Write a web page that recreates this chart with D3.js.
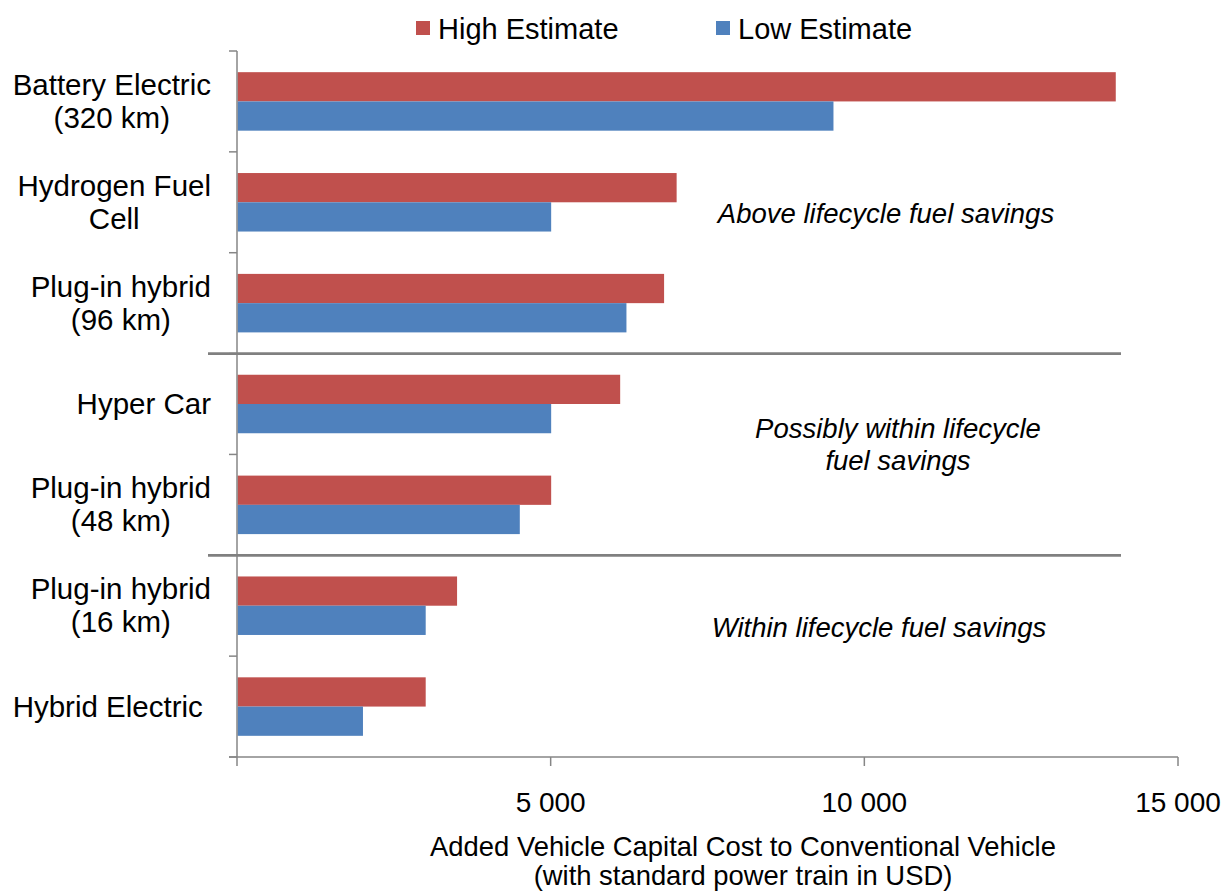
<!DOCTYPE html>
<html><head><meta charset="utf-8">
<script src="https://cdn.jsdelivr.net/npm/d3@7"></script>
<style>
body{margin:0;background:#fff;}
text{font-family:"Liberation Sans",Arial,sans-serif;fill:#000;}
</style></head>
<body><svg id="c" width="1224" height="891"></svg>
<script>
const categories = ["Battery Electric (320 km)","Hydrogen Fuel Cell","Plug-in hybrid (96 km)","Hyper Car","Plug-in hybrid (48 km)","Plug-in hybrid (16 km)","Hybrid Electric"];
const categoryLines = [["Battery Electric","(320 km)"],["Hydrogen Fuel","Cell"],["Plug-in hybrid","(96 km)"],["Hyper Car"],["Plug-in hybrid","(48 km)"],["Plug-in hybrid","(16 km)"],["Hybrid Electric\u00a0"]];
const highEstimate = [14000,7000,6800,6100,5000,3500,3000];
const lowEstimate  = [9500,5000,6200,5000,4500,3000,2000];
const xTicks = [0,5000,10000,15000];
const xTickLabels = ["","5 000","10 000","15 000"];
const seriesNames = ["High Estimate","Low Estimate"];
const seriesColors = ["#C0504D","#4F81BD"];
const dividersAfter = ["Plug-in hybrid (96 km)","Plug-in hybrid (48 km)"];
const zoneLabels = [["Above lifecycle fuel savings"],["Possibly within lifecycle","fuel savings"],["Within lifecycle fuel savings"]];
const axisTitle = ["Added Vehicle Capital Cost to Conventional Vehicle","(with standard power train in USD)"];

(function(){
const svg = d3.select("#c");
const pL = 237, pR = 1178, pT = 51, pB = 757;
const x = d3.scaleLinear().domain([0,15000]).range([pL,pR]);
const y = d3.scaleBand().domain(categories).range([pT,pB]).padding(0);
const bw = y.bandwidth();
const barOff = bw*0.21, barH = bw*0.29;
const axisColor = "#868686";

const series = [highEstimate, lowEstimate];
series.forEach((vals,si)=>{
  svg.append("g").selectAll("rect").data(categories).join("rect")
    .attr("x", x(0)+0.5)
    .attr("y", (d)=> y(d)+barOff+si*barH)
    .attr("width", (d,i)=> x(vals[i])-x(0))
    .attr("height", barH)
    .attr("fill", seriesColors[si]);
});

const ya = svg.append("g");
ya.append("line").attr("x1",pL).attr("x2",pL).attr("y1",pT).attr("y2",pB)
  .attr("stroke",axisColor).attr("stroke-width",1.5);
const yTickPos = categories.map(c=>y(c)).concat([pB]);
ya.selectAll("line.t").data(yTickPos).join("line").attr("class","t")
  .attr("x1",pL-8).attr("x2",pL).attr("y1",d=>d).attr("y2",d=>d)
  .attr("stroke",axisColor).attr("stroke-width",1.5);

const xa = svg.append("g");
xa.append("line").attr("x1",pL-8).attr("x2",pR).attr("y1",pB).attr("y2",pB)
  .attr("stroke",axisColor).attr("stroke-width",1.5);
xa.selectAll("line.t").data(xTicks).join("line").attr("class","t")
  .attr("x1",d=>x(d)).attr("x2",d=>x(d)).attr("y1",pB).attr("y2",pB+9)
  .attr("stroke",axisColor).attr("stroke-width",1.5);
xa.selectAll("text").data(xTicks).join("text")
  .attr("x",d=>x(d)).attr("y",812).attr("text-anchor","middle")
  .attr("font-size",28).text((d,i)=>xTickLabels[i]);

svg.selectAll("line.div").data(dividersAfter).join("line").attr("class","div")
  .attr("x1",208).attr("x2",1121)
  .attr("y1",d=>y(d)+bw).attr("y2",d=>y(d)+bw)
  .attr("stroke","#808080").attr("stroke-width",2.7);

const labelRight = 211, lineH = 33, catFS = 29.5;
categories.forEach((c,i)=>{
  const lines = categoryLines[i];
  const g = svg.append("g");
  const ts = lines.map((l,j)=> g.append("text").attr("font-size",catFS).attr("text-anchor","middle").text(l));
  const maxW = d3.max(ts, t=>t.node().getComputedTextLength());
  const cx = labelRight - maxW/2;
  const cy = y(c)+bw/2;
  const n = lines.length;
  ts.forEach((t,j)=>{
    t.attr("x",cx).attr("y", cy + (j-(n-1)/2)*lineH + 10);
  });
});

const zoneX = [886, 898, 879];
const zoneY = [223, 438, 637];
zoneLabels.forEach((ls,i)=>{
  ls.forEach((l,j)=>{
    svg.append("text").attr("x",zoneX[i]).attr("y",zoneY[i]+j*32)
      .attr("text-anchor","middle").attr("font-size",27.5).attr("font-style","italic").text(l);
  });
});

axisTitle.forEach((l,j)=>{
  svg.append("text").attr("x",743).attr("y",856+j*29).attr("text-anchor","middle")
    .attr("font-size",27.4).text(l);
});

const legX = [416, 716];
seriesNames.forEach((s,i)=>{
  svg.append("rect").attr("x",legX[i]).attr("y",21).attr("width",14).attr("height",14).attr("fill",seriesColors[i]);
  svg.append("text").attr("x",legX[i]+22).attr("y",39).attr("font-size",29).text(s);
});
})();
</script></body></html>
